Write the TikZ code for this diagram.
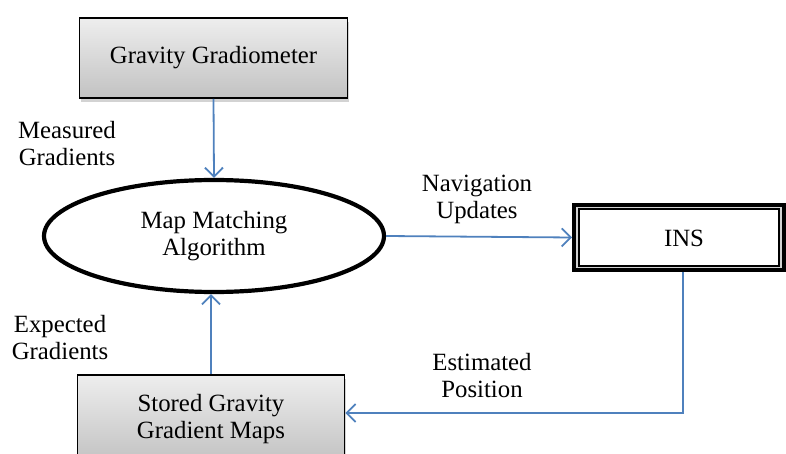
\documentclass[tikz,border=0pt]{standalone}
\usepackage{fontspec}
\setmainfont{Liberation Serif}
\usetikzlibrary{shapes.geometric,arrows.meta,shadows}
\definecolor{arrowblue}{HTML}{4F81BD}
\definecolor{boxtop}{HTML}{EEEEEE}
\definecolor{boxbot}{HTML}{C2C2C2}
\begin{document}
\begin{tikzpicture}[x=1pt,y=-1pt,
  every node/.style={font=\fontsize{24.8}{27}\selectfont, align=center},
  graybox/.style={rectangle, draw=black, line width=1.6pt, top color=boxtop, bottom color=boxbot, inner sep=0pt,
     drop shadow={shadow xshift=1pt, shadow yshift=-4pt, opacity=0.35}},
  flow/.style={draw=arrowblue, line width=1.8pt, -{Straight Barb[length=9pt,width=18pt,line width=1.8pt]}},
  lbl/.style={inner sep=0pt}
]
\useasboundingbox (0,0) rectangle (786,454);
\begin{scope}
\clip (0,0) rectangle (786,454);
\node[graybox, minimum width=268pt, minimum height=80pt] (grav) at (213.5,58) {Gravity Gradiometer};
\node[ellipse, draw=black, line width=4.2pt, minimum width=340pt, minimum height=112pt, inner sep=0pt] (ell) at (214,236) {Map Matching\\Algorithm};
\node[graybox, minimum width=267pt, minimum height=88pt] (stored) at (211,419) {Stored Gravity\\Gradient Maps};
\node[rectangle, draw=black, line width=4pt, fill=gray!35, minimum width=210pt, minimum height=65pt, inner sep=0pt] (ins) at (679,237.5) {};
\draw[black, line width=1.2pt, fill=white] ([shift={(7,6)}]ins.north west) rectangle ([shift={(-7,-6)}]ins.south east);
\node[lbl] (instext) at (684,238) {INS};

\node[lbl] (meas) at (67,144) {Measured\\Gradients};
\node[lbl] (nav) at (477,199) {Navigation\\Updates};
\node[lbl] (exp) at (60,338) {Expected\\Gradients};
\node[lbl] (est) at (482,376) {Estimated\\Position};

\coordinate (corner) at (683,413);
\draw[flow] (grav.south) -- (ell.north);
\draw[flow] (stored.north) -- (stored.north |- ell.south);
\draw[flow] (ell.east) -- (ins.west);
\draw[flow] (ins.south -| corner) -- (corner) -- (corner -| stored.east);
\end{scope}
\end{tikzpicture}
\end{document}
